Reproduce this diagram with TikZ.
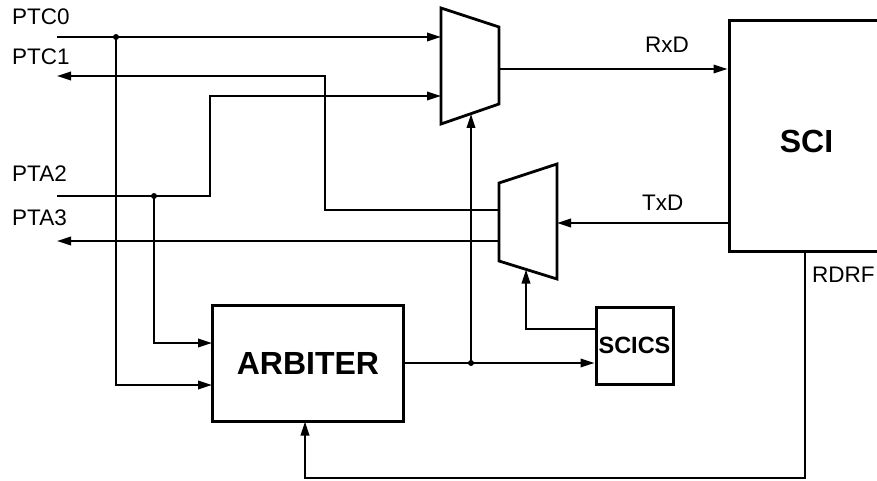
\documentclass[tikz,border=0pt]{standalone}
\usepackage{fontspec}
\setmainfont{Liberation Sans}
\usetikzlibrary{arrows.meta,positioning}
\tikzset{
  blk/.style={draw, line width=3pt, inner sep=0pt, align=center,
              font=\fontsize{32}{36}\selectfont\bfseries},
  sig/.style={line width=1.9pt},
  arr/.style={sig, -{Triangle[length=14pt,width=8.5pt]}},
  pin/.style={anchor=base west, inner sep=0pt, font=\fontsize{22.5}{26}\selectfont},
  muxline/.style={draw, line width=2.8pt, line join=miter},
  tap/.style={circle, fill, inner sep=0pt, minimum size=6pt},
}

\begin{document}
\begin{tikzpicture}[x=1pt, y=-1pt]
\useasboundingbox (0,0) rectangle (877,481);

% blocks
\node[blk, minimum width=191pt, minimum height=116pt] (arbiter) at (308,363.5) {ARBITER};
\node[blk, minimum width=155pt, minimum height=230pt, text height=33pt] (sci) at (806.5,136) {SCI};
\node[blk, minimum width=77pt, minimum height=77pt,
      font=\fontsize{23.5}{26}\selectfont\bfseries] (scics) at (634.5,345.5) {SCICS};

% multiplexers
\draw[muxline] (441,8) -- (499,27) -- (499,104) -- (441,124) -- cycle;
\draw[muxline] (499,183) -- (557,164) -- (557,279) -- (499,261) -- cycle;

% ports
\coordinate (mux1in1) at (441,37);
\coordinate (mux1in2) at (441,96);
\coordinate (mux1out) at (499,69);
\coordinate (mux1sel) at (471,114);
\coordinate (mux2out1) at (499,210);
\coordinate (mux2out2) at (499,241);
\coordinate (mux2in) at (557,223);
\coordinate (mux2sel) at (526,269.5);
\coordinate (arbin1) at (212,343);
\coordinate (arbin2) at (212,385);
\coordinate (arbin3) at (305,421.5);
\coordinate (arbout) at (404,363);
\coordinate (scicsout) at (596,329);
\coordinate (sciflag) at (805,251);

% pins
\node[pin] (ptc0) at (12,25) {PTC0};
\node[pin] (ptc1) at (12,65) {PTC1};
\node[pin] (pta2) at (12,182) {PTA2};
\node[pin] (pta3) at (12,225) {PTA3};
\coordinate (ptc0end) at (57,37);
\coordinate (ptc1end) at (57,76);
\coordinate (pta2end) at (57,196);
\coordinate (pta3end) at (57,241);

% signal names
\node[pin] (rxd) at (645,53) {RxD};
\node[pin] (txd) at (642,210) {TxD};
\node[pin] (rdrf) at (812,282) {RDRF};

% junctions
\node[tap] (tapc0) at (116,37) {};
\node[tap] (tapa2) at (154,196) {};
\node[tap] (taparb) at (471,363) {};

% wires
\draw[arr] (ptc0end) -- (mux1in1);
\draw[arr] (tapc0.center) |- (arbin2);
\draw[arr] (mux2out1) -- ++(-174,0) |- (ptc1end);
\draw[arr] (pta2end) -- ++(153,0) |- (mux1in2);
\draw[arr] (tapa2.center) |- (arbin1);
\draw[arr] (mux2out2) -- (pta3end);
\draw[arr] (mux1out) -- (sci.west |- mux1out);
\draw[arr] (sci.west |- mux2in) -- (mux2in);
\draw[arr] (arbout) -- (scics.west |- arbout);
\draw[arr] (taparb.center) -- (mux1sel);
\draw[arr] (scicsout) -| (mux2sel);
\draw[arr] (sciflag) -- ++(0,227) -| (arbin3);

\end{tikzpicture}
\end{document}
